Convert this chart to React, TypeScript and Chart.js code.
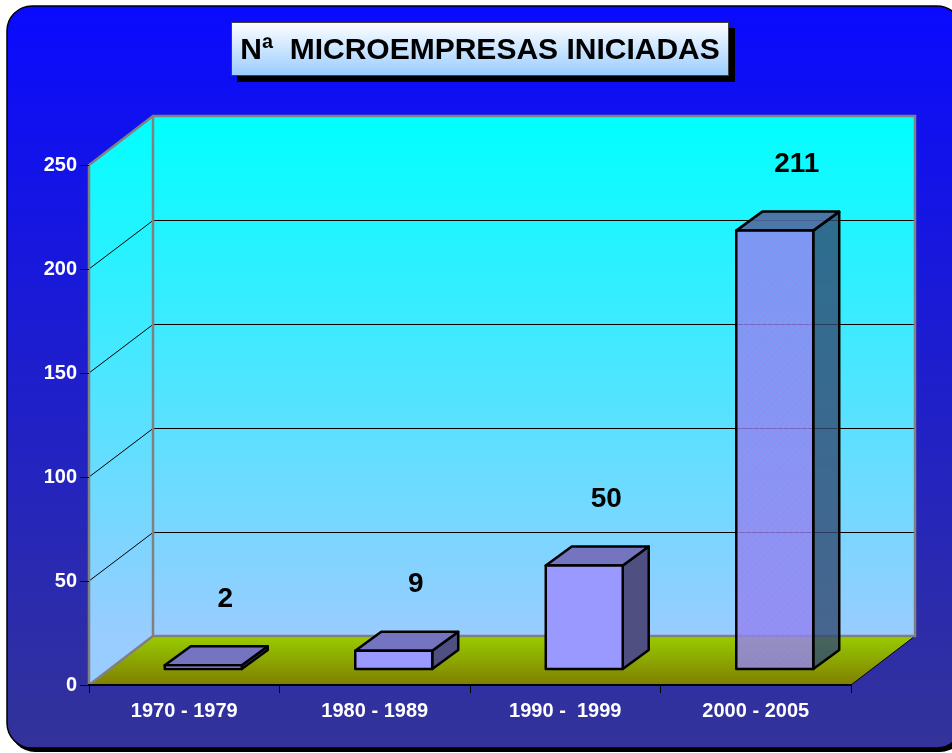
import React, { useEffect, useRef } from 'react';
import { Chart, registerables } from 'chart.js';

Chart.register(...registerables);

const categories = ['1970 - 1979', '1980 - 1989', '1990 -  1999', '2000 - 2005'];
const values = [2, 9, 50, 211];
const yTickValues = [0, 50, 100, 150, 200, 250];
const chartTitle = 'Nª  MICROEMPRESAS INICIADAS';

const FONT = '"Liberation Sans", Arial, Helvetica, sans-serif';

// 3D projection constants
const WALL_DX = 64;
const WALL_DY = -49;
const BAR_FRONT_DX = 19;
const BAR_FRONT_DY = -15.5;
const BAR_DX = 26;
const BAR_DY = -19;

function roundRectPath(ctx: CanvasRenderingContext2D, x: number, y: number, w: number, h: number, r: number) {
  ctx.beginPath();
  ctx.moveTo(x + r, y);
  ctx.lineTo(x + w - r, y);
  ctx.arcTo(x + w, y, x + w, y + r, r);
  ctx.lineTo(x + w, y + h - r);
  ctx.arcTo(x + w, y + h, x + w - r, y + h, r);
  ctx.lineTo(x + r, y + h);
  ctx.arcTo(x, y + h, x, y + h - r, r);
  ctx.lineTo(x, y + r);
  ctx.arcTo(x, y, x + r, y, r);
  ctx.closePath();
}

function poly(ctx: CanvasRenderingContext2D, pts: number[][]) {
  ctx.beginPath();
  ctx.moveTo(pts[0][0], pts[0][1]);
  for (let i = 1; i < pts.length; i++) ctx.lineTo(pts[i][0], pts[i][1]);
  ctx.closePath();
}

function makePattern(ctx: CanvasRenderingContext2D) {
  const c = document.createElement('canvas');
  c.width = 6;
  c.height = 6;
  const p = c.getContext('2d')!;
  p.strokeStyle = 'rgba(190,120,220,0.6)';
  p.lineWidth = 1.2;
  p.beginPath();
  p.moveTo(0, 6);
  p.lineTo(6, 0);
  p.moveTo(-3, 3);
  p.lineTo(3, -3);
  p.moveTo(3, 9);
  p.lineTo(9, 3);
  p.stroke();
  return ctx.createPattern(c, 'repeat');
}

const scenePlugin = {
  id: 'scene3d',
  beforeDraw(chart: any) {
    const ctx: CanvasRenderingContext2D = chart.ctx;
    const { left, right, bottom } = chart.chartArea;
    const ys = chart.scales.y;
    ctx.save();

    // outer frame shadow + frame
    ctx.fillStyle = '#000';
    roundRectPath(ctx, 10, 10, 955, 742, 25);
    ctx.fill();
    const bg = ctx.createLinearGradient(0, 6, 0, 748);
    bg.addColorStop(0, '#0a0aff');
    bg.addColorStop(1, '#333399');
    roundRectPath(ctx, 7, 6, 955, 742, 25);
    ctx.fillStyle = bg;
    ctx.fill();
    ctx.lineWidth = 1.5;
    ctx.strokeStyle = '#000';
    ctx.stroke();

    // title box
    ctx.fillStyle = '#000';
    ctx.fillRect(237, 28, 498, 54);
    const tg = ctx.createLinearGradient(0, 22, 0, 76);
    tg.addColorStop(0, '#ffffff');
    tg.addColorStop(1, '#99ccff');
    ctx.fillStyle = tg;
    ctx.fillRect(231, 22, 498, 54);
    ctx.lineWidth = 1;
    ctx.strokeStyle = '#404040';
    ctx.strokeRect(231.5, 22.5, 497, 53);
    ctx.fillStyle = '#000';
    ctx.font = `bold 30px ${FONT}`;
    ctx.textAlign = 'center';
    ctx.textBaseline = 'middle';
    ctx.fillText(chartTitle, 480, 51);

    // walls
    const x0 = left, x1 = right, yb = bottom;
    const yt = ys.getPixelForValue(yTickValues[yTickValues.length - 1]);
    const wg = ctx.createLinearGradient(0, yt + WALL_DY, 0, yb + WALL_DY);
    wg.addColorStop(0, '#00ffff');
    wg.addColorStop(1, '#99ccff');
    ctx.fillStyle = wg;
    poly(ctx, [[x0, yt], [x0 + WALL_DX, yt + WALL_DY], [x0 + WALL_DX, yb + WALL_DY], [x0, yb]]);
    ctx.fill();
    ctx.fillRect(x0 + WALL_DX, yt + WALL_DY, x1 - x0, yb - yt);

    // gridlines
    ctx.strokeStyle = '#000';
    ctx.lineWidth = 1;
    for (const v of yTickValues) {
      if (v === yTickValues[0] || v === yTickValues[yTickValues.length - 1]) continue;
      const yf = ys.getPixelForValue(v);
      const yback = Math.round(yf + WALL_DY) + 0.5;
      ctx.beginPath();
      ctx.moveTo(x0, yf);
      ctx.lineTo(x0 + WALL_DX, yback);
      ctx.lineTo(x1 + WALL_DX, yback);
      ctx.stroke();
    }

    // floor
    const fg = ctx.createLinearGradient(0, yb + WALL_DY, 0, yb);
    fg.addColorStop(0, '#99cc00');
    fg.addColorStop(1, '#7f7f00');
    ctx.fillStyle = fg;
    poly(ctx, [[x0, yb], [x1, yb], [x1 + WALL_DX, yb + WALL_DY], [x0 + WALL_DX, yb + WALL_DY]]);
    ctx.fill();
    ctx.strokeStyle = '#000';
    ctx.lineWidth = 1;
    ctx.beginPath();
    ctx.moveTo(x1, yb);
    ctx.lineTo(x1 + WALL_DX, yb + WALL_DY);
    ctx.stroke();

    // gray wall edges
    ctx.strokeStyle = '#808080';
    ctx.lineWidth = 2.5;
    ctx.lineJoin = 'miter';
    ctx.beginPath();
    ctx.moveTo(x0, yb);
    ctx.lineTo(x0, yt);
    ctx.lineTo(x0 + WALL_DX, yt + WALL_DY);
    ctx.lineTo(x1 + WALL_DX, yt + WALL_DY);
    ctx.lineTo(x1 + WALL_DX, yb + WALL_DY);
    ctx.lineTo(x0 + WALL_DX, yb + WALL_DY);
    ctx.lineTo(x0 + WALL_DX, yt + WALL_DY);
    ctx.moveTo(x0, yb);
    ctx.lineTo(x0 + WALL_DX, yb + WALL_DY);
    ctx.stroke();

    ctx.restore();
  },
  afterDatasetsDraw(chart: any) {
    const ctx: CanvasRenderingContext2D = chart.ctx;
    const meta = chart.getDatasetMeta(0);
    const pattern = makePattern(ctx);
    ctx.save();
    meta.data.forEach((el: any, i: number) => {
      const w = el.width;
      const fx0 = el.x - w / 2 + BAR_FRONT_DX;
      const fx1 = fx0 + w;
      const ft = el.y + BAR_FRONT_DY;
      const fb = el.base + BAR_FRONT_DY;
      const last = i === meta.data.length - 1;
      const front = last ? 'rgba(140,132,245,0.78)' : '#9999ff';
      const topC = last ? 'rgba(80,105,160,0.9)' : '#7474c0';
      const sideC = last ? 'rgba(50,75,115,0.8)' : '#4f4f82';

      ctx.lineWidth = 2.5;
      ctx.lineJoin = 'round';
      ctx.strokeStyle = '#000';

      // side
      poly(ctx, [[fx1, ft], [fx1 + BAR_DX, ft + BAR_DY], [fx1 + BAR_DX, fb + BAR_DY], [fx1, fb]]);
      ctx.fillStyle = sideC;
      ctx.fill();
      ctx.stroke();
      // top
      poly(ctx, [[fx0, ft], [fx1, ft], [fx1 + BAR_DX, ft + BAR_DY], [fx0 + BAR_DX, ft + BAR_DY]]);
      ctx.fillStyle = topC;
      ctx.fill();
      ctx.stroke();
      // front
      poly(ctx, [[fx0, ft], [fx1, ft], [fx1, fb], [fx0, fb]]);
      ctx.fillStyle = front;
      ctx.fill();
      if (last && pattern) {
        ctx.fillStyle = pattern;
        ctx.fill();
      }
      ctx.stroke();

      // value label
      ctx.fillStyle = '#000';
      ctx.font = `bold 28px ${FONT}`;
      ctx.textAlign = 'center';
      ctx.textBaseline = 'middle';
      ctx.fillText(String(values[i]), el.x + 41, el.y - 82);
    });
    ctx.restore();
  },
};

export default function App() {
  const ref = useRef<HTMLCanvasElement | null>(null);
  useEffect(() => {
    if (!ref.current) return;
    const chart = new Chart(ref.current, {
      type: 'bar',
      data: {
        labels: categories,
        datasets: [
          {
            data: values,
            backgroundColor: 'rgba(0,0,0,0)',
            borderWidth: 0,
            barPercentage: 0.404,
            categoryPercentage: 1,
          },
        ],
      },
      options: {
        responsive: false,
        animation: false,
        layout: { padding: { left: 29, right: 101, top: 165, bottom: 18 } },
        plugins: {
          legend: { display: false },
          tooltip: { enabled: false },
          title: { display: false },
        },
        scales: {
          x: {
            afterFit: (s: any) => {
              s.height = 50;
            },
            grid: {
              display: true,
              drawOnChartArea: false,
              drawTicks: true,
              tickLength: 8,
              color: '#000',
              lineWidth: 1,
              offset: true,
            },
            border: { display: true, color: '#000', width: 2 },
            ticks: {
              color: '#ffffff',
              padding: 6,
              font: { family: FONT, size: 20, weight: 'bold' },
              maxRotation: 0,
              autoSkip: false,
            },
          },
          y: {
            min: 0,
            max: 250,
            afterFit: (s: any) => {
              s.width = 60;
            },
            afterBuildTicks: (s: any) => {
              s.ticks = yTickValues.map((v) => ({ value: v }));
            },
            grid: {
              display: true,
              drawOnChartArea: false,
              drawTicks: true,
              tickLength: 9,
              color: '#000',
              lineWidth: 1,
            },
            border: { display: false },
            ticks: {
              color: '#ffffff',
              padding: 3,
              font: { family: FONT, size: 20, weight: 'bold' },
            },
          },
        },
      },
      plugins: [scenePlugin],
    });
    return () => chart.destroy();
  }, []);
  return (
    <div style={{ position: 'fixed', left: 0, top: 0, width: 952, height: 753 }}>
      <canvas ref={ref} width={952} height={753} style={{ display: 'block', width: 952, height: 753 }} />
    </div>
  );
}
